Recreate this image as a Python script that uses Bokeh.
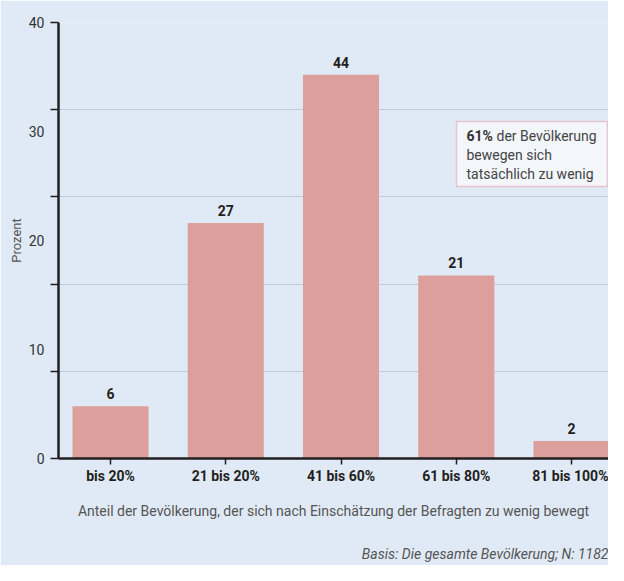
from bokeh.plotting import figure
from bokeh.models import (FixedTicker, LinearAxis, Range1d, Label, BoxAnnotation, Title,
                          ColumnDataSource)
from bokeh.core.properties import value
from bokeh.embed import file_html
from bokeh.resources import INLINE

# ---------------- data ----------------
categories = ["bis 20%", "21 bis 20%", "41 bis 60%", "61 bis 80%", "81 bis 100%"]
values = [6, 27, 44, 21, 2]
value_labels = ["6", "27", "44", "21", "2"]
grid_values = [0, 10, 20, 30, 40, 50]          # tick marks / gridlines (bar scale)
y_tick_labels = ["0", "10", "20", "30", "40"]  # printed axis labels (reference axis)
y_label_scale = 1.25                           # printed labels are spread over the full 0-50 scale
x_label = "Anteil der Bevölkerung, der sich nach Einschätzung der Befragten zu wenig bewegt"
y_label = "Prozent"
note_bold = "61%"
note_rest = ["der Bevölkerung", "bewegen sich", "tatsächlich zu wenig"]
source_note = "Basis: Die gesamte Bevölkerung; N: 1182"

FONT = "Roboto"
BG = "#e0eaf6"
BAR = "#dc9f9c"
DARK = "#231f20"
GREY = "#555555"

xs = list(range(1, len(categories) + 1))
src = ColumnDataSource(dict(x=xs, top=values, lab=value_labels))

p = figure(width=608, height=565, output_backend="svg", toolbar_location=None,
           x_range=Range1d(0.5488, 5.321), y_range=Range1d(0, 50),
           min_border_left=58, min_border_right=0, min_border_top=22, min_border_bottom=107)
p.background_fill_color = BG
p.border_fill_color = BG
p.outline_line_color = None

p.vbar(x="x", top="top", width=0.66, bottom=0, source=src, fill_color=BAR, line_color=None)
p.text(x="x", y="top", text="lab", source=src, y_offset=-7, text_align="center",
       text_baseline="bottom", text_font=value(FONT), text_font_style="bold",
       text_font_size="14px", text_color=DARK)

# grid
p.xgrid.visible = False
p.ygrid.ticker = FixedTicker(ticks=grid_values[1:])
p.ygrid.grid_line_color = "#a3abb6"
p.ygrid.grid_line_dash = "1 1"
p.ygrid.grid_line_width = 1

# x axis
xa = p.xaxis[0]
xa.ticker = FixedTicker(ticks=xs)
xa.major_label_overrides = {x: c for x, c in zip(xs, categories)}
xa.minor_tick_line_color = None
xa.major_tick_in = 0
xa.major_tick_out = 6
xa.major_tick_line_color = DARK
xa.major_tick_line_width = 1.5
xa.axis_line_color = DARK
xa.axis_line_width = 2.5
xa.major_label_text_font = FONT
xa.major_label_text_font_style = "bold"
xa.major_label_text_font_size = "14px"
xa.major_label_text_color = DARK
xa.major_label_standoff = 3
xa.axis_label = x_label
xa.axis_label_text_font = FONT
xa.axis_label_text_font_style = "normal"
xa.axis_label_text_font_size = "14px"
xa.axis_label_text_color = GREY
xa.axis_label_standoff = 16

# left axis A: tick marks only (nearest frame)
ya = p.yaxis[0]
ya.ticker = FixedTicker(ticks=grid_values)
ya.major_label_overrides = {v: "" for v in grid_values}
ya.major_label_text_font_size = "0px"
ya.major_label_standoff = 0
ya.minor_tick_line_color = None
ya.major_tick_in = 0
ya.major_tick_out = 8
ya.major_tick_line_color = DARK
ya.major_tick_line_width = 1.5
ya.axis_line_color = DARK
ya.axis_line_width = 2.5

# left axis B: printed labels
label_pos = [float(v) * y_label_scale for v in map(int, y_tick_labels)]
yb = LinearAxis(ticker=FixedTicker(ticks=label_pos),
                major_label_overrides={pos: t for pos, t in zip(label_pos, y_tick_labels)})
yb.axis_line_color = None
yb.major_tick_line_color = None
yb.minor_tick_line_color = None
yb.major_tick_out = 0
yb.major_tick_in = 0
yb.major_label_standoff = 6
yb.major_label_text_font = FONT
yb.major_label_text_font_size = "14px"
yb.major_label_text_color = "#333333"
yb.axis_label = y_label
yb.axis_label_text_font = FONT
yb.axis_label_text_font_style = "normal"
yb.axis_label_text_font_size = "13px"
yb.axis_label_text_color = GREY
yb.axis_label_standoff = 2
p.add_layout(yb, "left")

# note box
box = BoxAnnotation(left=4.002, right=5.312, top=38.65, bottom=31.19,
                    fill_color="#f3f6fb", fill_alpha=1, line_color="#e6646d", line_width=1.5)
p.add_layout(box)
p.add_layout(Label(x=4.089, y=37.04, text=note_bold, text_font=FONT, text_font_style="bold",
                   text_font_size="14px", text_color="#333333", text_baseline="middle"))
p.add_layout(Label(x=4.089, y=37.04, x_offset=30, text=note_rest[0], text_font=FONT,
                   text_font_size="14px", text_color="#444444", text_baseline="middle"))
for i, line in enumerate(note_rest[1:]):
    p.add_layout(Label(x=4.089, y=[34.75, 32.68][i], text=line, text_font=FONT,
                       text_font_size="14px", text_color="#444444", text_baseline="middle"))

# spacer between axis title and source note
p.add_layout(Title(text=" ", text_font_size="2px", standoff=16), "below")
# source note
t = Title(text=source_note, align="right", text_font=FONT, text_font_style="italic",
          text_font_size="14px", text_color=GREY, standoff=4, vertical_align="bottom")
p.add_layout(t, "below")

open("out.html", "w").write(file_html(p, INLINE))
